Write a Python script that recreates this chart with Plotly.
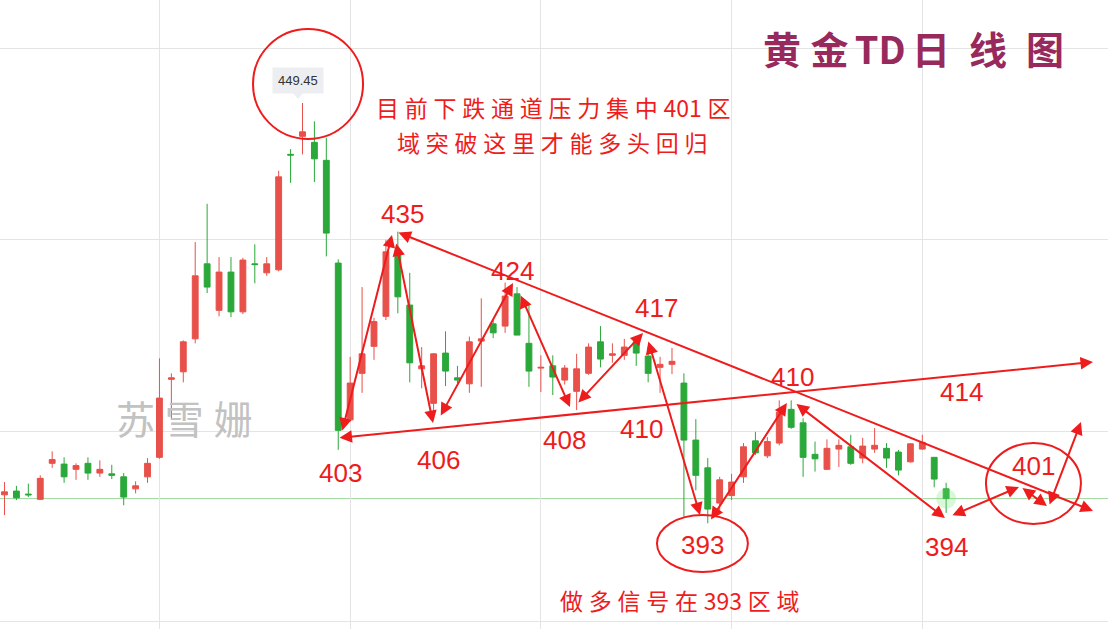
import plotly.graph_objects as go

# ---------------- data ----------------
idx = list(range(80))
open_ = [397.2, 397.7, 397.3, 396.6, 401.4, 401.3, 400.6, 401.4, 400.1, 400.0,
         399.6, 398.0, 399.6, 402.2, 412.6, 413.6, 418.0, 428.0, 421.8, 426.9,
         421.6, 428.0, 426.8, 427.2, 442.6, 445.0, 444.2, 441.8, 428.1, 407.2,
         413.4, 417.0, 421.0, 429.8, 422.5, 414.0, 409.4, 416.1, 412.8, 412.0,
         417.7, 420.0, 419.7, 424.0, 417.4, 414.1, 414.4, 412.5, 411.0, 413.4,
         417.6, 415.8, 415.8, 417.6, 415.7, 414.2, 414.6, 412.1, 404.5, 400.8,
         396.1, 397.1, 399.6, 404.4, 402.4, 404.1, 408.6, 406.8, 402.6, 400.6,
         403.3, 403.6, 402.1, 403.3, 403.4, 402.9, 401.6, 403.3, 402.2, 398.0]
high = [398.9, 398.4, 398.7, 399.8, 403.0, 402.2, 401.4, 402.2, 401.8, 401.2,
        400.1, 399.0, 402.1, 415.4, 413.4, 417.8, 430.9, 436.0, 428.9, 428.9,
        428.8, 430.6, 428.9, 440.4, 443.3, 449.45, 447.0, 444.8, 428.6, 415.6,
        424.9, 420.8, 431.2, 432.3, 426.8, 416.9, 416.1, 419.0, 414.4, 418.3,
        423.4, 420.5, 425.5, 424.9, 422.5, 415.8, 415.8, 414.5, 416.0, 417.4,
        419.7, 417.4, 418.0, 418.1, 416.9, 415.6, 416.8, 413.4, 407.3, 402.1,
        399.6, 400.0, 404.1, 405.6, 404.9, 409.8, 409.8, 407.4, 404.3, 404.6,
        404.6, 405.2, 404.8, 406.1, 404.1, 403.2, 404.1, 405.2, 402.2, 398.8]
low = [394.5, 396.5, 396.9, 396.5, 400.8, 398.8, 399.2, 399.2, 399.6, 399.3,
       395.8, 397.4, 398.8, 402.0, 407.2, 412.2, 417.4, 424.1, 421.0, 420.9,
       421.3, 425.4, 426.4, 427.0, 438.8, 442.6, 438.9, 429.0, 403.2, 407.0,
       410.8, 415.2, 420.5, 421.4, 412.2, 411.4, 407.2, 411.7, 412.1, 410.8,
       411.6, 418.1, 418.8, 418.5, 411.6, 410.9, 410.5, 411.9, 408.5, 413.2,
       414.2, 414.8, 415.2, 414.4, 412.2, 410.8, 413.3, 394.3, 397.8, 393.4,
       394.8, 396.5, 398.8, 402.5, 402.1, 403.8, 406.0, 399.6, 400.3, 400.5,
       400.9, 401.2, 401.4, 402.8, 400.8, 399.8, 401.5, 403.2, 398.2, 394.8]
close = [397.6, 396.8, 397.2, 399.4, 401.9, 399.6, 401.1, 400.1, 400.6, 399.8,
         396.9, 398.4, 401.4, 410.1, 412.8, 417.6, 426.4, 424.9, 426.9, 421.6,
         428.5, 427.9, 428.0, 439.6, 442.5, 445.6, 442.0, 432.1, 405.8, 412.1,
         416.0, 420.3, 429.6, 423.6, 414.8, 414.4, 416.0, 413.7, 412.5, 417.6,
         418.0, 418.8, 423.7, 418.5, 413.7, 414.2, 412.9, 414.1, 414.0, 416.9,
         415.3, 416.0, 416.9, 416.1, 413.4, 414.6, 415.0, 404.5, 399.8, 395.3,
         399.2, 398.9, 403.6, 402.8, 404.3, 408.2, 406.2, 402.2, 402.0, 403.4,
         403.8, 401.4, 403.7, 403.8, 402.1, 400.5, 404.0, 404.2, 399.3, 396.7]

grid_x = [13, 29, 45, 61, 77]
grid_y = [380.25, 405.71, 431.18, 456.65]

high_label = "449.45"

# trend channel lines (candle index, price)
trend_upper = [(32.93, 432.25), (91.32, 395.05)]
trend_lower = [(27.98, 404.78), (91.32, 414.91)]

# swing arrows: (x0, y0, x1, y1)
swing_arrows = [
    (28.31, 405.58, 32.51, 431.85),
    (32.84, 430.91, 35.95, 406.78),
    (36.53, 407.58, 42.66, 425.45),
    (43.25, 423.98, 47.44, 408.91),
    (48.03, 409.31, 53.57, 418.78),
    (53.98, 417.85, 58.35, 394.51),
    (59.19, 393.71, 65.64, 409.45),
    (66.32, 409.45, 78.90, 394.11),
    (79.40, 394.38, 85.11, 398.25),
    (85.28, 398.25, 87.46, 395.71),
    (87.63, 395.71, 90.31, 406.91),
]

level_texts = ["435", "424", "417", "410", "414", "403", "406", "408", "410", "393", "394", "401"]
level_x = [33.35, 42.66, 54.74, 66.07, 80.33, 28.23, 36.37, 47.02, 53.40, 58.60, 79.07, 86.29]
level_y = [434.65, 427.05, 422.11, 412.91, 410.91, 400.11, 401.85, 404.51, 405.98, 390.51, 390.25, 401.05]

# highlighted ellipses (x0, x1, y0, y1)
ellipses = [
    (20.85, 30.08, 444.65, 459.31),
    (54.74, 62.37, 386.91, 394.51),
    (82.34, 90.31, 393.31, 404.11),
]

title_text = "黄\u2005金\u2006TD\u2006日\u2005\u2005线\u2005\u2005图"
note_line1 = "\u2005".join(list("目前下跌通道压力集中")) + "\u2005401\u2005区"
note_line2 = "\u2005".join(list("域突破这里才能多头回归"))
note_bottom = "\u2005".join(["做", "多", "信", "号", "在", "393", "区", "域"])
watermark = "\u2005".join(list("苏雪姗"))

RED_UP = "#e8504a"
GREEN_DN = "#2aa83a"
ANN_RED = "#ee1c1c"

W, H = 1108, 629

fig = go.Figure()
fig.add_trace(go.Candlestick(
    x=idx, open=open_, high=high, low=low, close=close,
    increasing=dict(line=dict(color=RED_UP, width=1), fillcolor=RED_UP),
    decreasing=dict(line=dict(color=GREEN_DN, width=1), fillcolor=GREEN_DN),
    whiskerwidth=0, hoverinfo="skip", showlegend=False,
))
# glow on last candle
fig.add_trace(go.Scatter(
    x=[idx[-1]], y=[close[-1]], mode="markers",
    marker=dict(size=20, color="rgba(120,225,120,0.28)", line=dict(width=0)),
    hoverinfo="skip", showlegend=False,
))

shapes = []
# last price line
shapes.append(dict(type="line", xref="paper", x0=0, x1=1, yref="y",
                   y0=close[-1], y1=close[-1],
                   line=dict(color="#9fd89f", width=1), layer="below"))
for (x0, x1, y0, y1) in ellipses:
    shapes.append(dict(type="circle", xref="x", yref="y", x0=x0, x1=x1, y0=y0, y1=y1,
                       line=dict(color=ANN_RED, width=2)))

annotations = []

def arrow(x0, y0, x1, y1):
    annotations.append(dict(
        x=x1, y=y1, ax=x0, ay=y0, xref="x", yref="y", axref="x", ayref="y",
        text="", showarrow=True, arrowhead=2, startarrowhead=2,
        arrowside="end+start", arrowsize=1.25, startarrowsize=1.25,
        arrowwidth=2, arrowcolor=ANN_RED))

arrow(trend_upper[0][0], trend_upper[0][1], trend_upper[1][0], trend_upper[1][1])
arrow(trend_lower[0][0], trend_lower[0][1], trend_lower[1][0], trend_lower[1][1])
for seg in swing_arrows:
    arrow(*seg)

for t, x, y in zip(level_texts, level_x, level_y):
    annotations.append(dict(x=x, y=y, xref="x", yref="y", text=t, showarrow=False,
                            xanchor="center", yanchor="middle",
                            font=dict(family="Liberation Sans, Arial", size=26, color=ANN_RED)))

cjk = "Noto Sans CJK SC"

def px(x, y):
    return x / W, 1 - y / H

def ptext(x, y, text, size, color, family=cjk, **kw):
    tx, ty = px(x, y)
    annotations.append(dict(x=tx, y=ty, xref="paper", yref="paper", text=text,
                            xanchor="center", yanchor="middle", showarrow=False,
                            font=dict(family=family, size=size, color=color), **kw))

ptext(913, 47, "<b>" + title_text + "</b>", 38, "#97295c")
ptext(553, 107, note_line1, 23, ANN_RED)
ptext(552, 142, note_line2, 23, ANN_RED)
ptext(680, 600, note_bottom, 23, ANN_RED)
ptext(184, 417, watermark, 39, "#c2c2c2")
# tooltip of the high
ptext(298, 80, high_label, 13, "#333333", family="Liberation Sans, Arial",
      bgcolor="#eceef1", borderpad=5)
shapes.append(dict(type="path", xref="paper", yref="paper",
                   path="M {} {} L {} {} L {} {} Z".format(293 / W, 1 - 93 / H, 303 / W, 1 - 93 / H,
                                                          298 / W, 1 - 99 / H),
                   fillcolor="#eceef1", line=dict(width=0)))

fig.update_layout(
    width=W, height=H,
    margin=dict(l=0, r=0, t=0, b=0),
    paper_bgcolor="white", plot_bgcolor="white",
    showlegend=False,
    shapes=shapes, annotations=annotations,
    xaxis=dict(range=[-0.3775, 92.58], tickvals=grid_x, showticklabels=False,
               showgrid=True, gridcolor="#e4e4e4", gridwidth=1, zeroline=False,
               showline=False, rangeslider=dict(visible=False), fixedrange=True),
    yaxis=dict(range=[379.31, 463.18], tickvals=grid_y, showticklabels=False,
               showgrid=True, gridcolor="#e4e4e4", gridwidth=1, zeroline=False,
               showline=False, fixedrange=True),
)

fig.write_html("out.html", config={"displayModeBar": False},
               post_script="document.body.style.margin='0';")
